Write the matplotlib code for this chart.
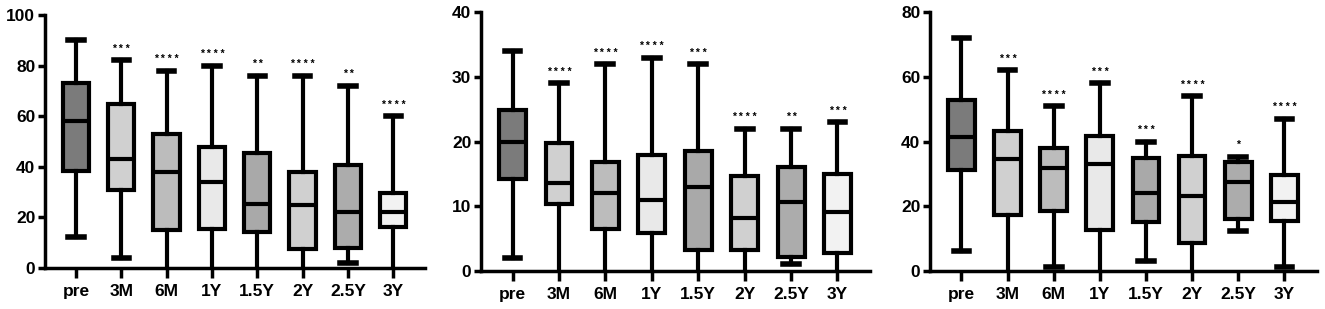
import matplotlib
matplotlib.use("Agg")
import matplotlib.pyplot as plt

plt.rcParams['font.family'] = ['Liberation Sans', 'DejaVu Sans']
plt.rcParams['font.weight'] = 'bold'

groups = ["pre", "3M", "6M", "1Y", "1.5Y", "2Y", "2.5Y", "3Y"]
fills = ["#7b7b7b", "#d0d0d0", "#bcbcbc", "#e9e9e9", "#a9a9a9", "#d0d0d0", "#acacac", "#f2f2f2"]

# panel 1: min, q1, median, q3, max
p1_min = [12, 4, 0, 0, 0, 0, 2, 0]
p1_q1 = [38.4, 30.7, 14.9, 15.4, 14.1, 7.3, 7.9, 16.2]
p1_med = [58, 43, 38, 34, 25.2, 24.8, 22.2, 22]
p1_q3 = [73.2, 64.7, 52.8, 47.6, 45.5, 37.7, 40.6, 29.7]
p1_max = [90, 82, 78, 80, 76, 76, 72, 60]
p1_stars = ["", "***", "****", "****", "**", "****", "**", "****"]

# panel 2
p2_min = [2, 0, 0, 0, 0, 0, 1, 0]
p2_q1 = [14.2, 10.3, 6.4, 5.9, 3.2, 3.2, 2.1, 2.7]
p2_med = [20, 13.5, 12.1, 11, 12.9, 8.1, 10.6, 9.1]
p2_q3 = [24.9, 19.8, 16.9, 17.9, 18.6, 14.6, 16.1, 15]
p2_max = [34, 29, 32, 33, 32, 22, 22, 23]
p2_stars = ["", "****", "****", "****", "***", "****", "**", "***"]

# panel 3
p3_min = [6, 0, 1, 0, 3, 0, 12.3, 1]
p3_q1 = [31.2, 17.1, 18.6, 12.6, 15.1, 8.5, 16, 15.5]
p3_med = [41.3, 34.5, 31.7, 33, 24, 23.1, 27.6, 21.3]
p3_q3 = [52.9, 43.4, 37.9, 41.8, 35, 35.5, 33.6, 29.6]
p3_max = [72, 62, 51, 58, 40, 54, 35.3, 47]
p3_stars = ["", "***", "****", "***", "***", "****", "*", "****"]

panels = [
    (p1_min, p1_q1, p1_med, p1_q3, p1_max, p1_stars, 100, [0, 20, 40, 60, 80, 100],
     [0.034, 0.1337, 0.2868, 0.8178]),
    (p2_min, p2_q1, p2_med, p2_q3, p2_max, p2_stars, 40, [0, 10, 20, 30, 40],
     [0.363, 0.124, 0.2936, 0.836]),
    (p3_min, p3_q1, p3_med, p3_q3, p3_max, p3_stars, 80, [0, 20, 40, 60, 80],
     [0.7019, 0.124, 0.2918, 0.836]),
]

fig = plt.figure(figsize=(13.25, 3.09), dpi=100)
lw = 3.0

for mins, q1, med, q3, maxs, stars, ymax, yticks, rect in panels:
    ax = fig.add_axes(rect)
    stats = []
    for i, g in enumerate(groups):
        stats.append({"label": g, "whislo": mins[i], "q1": q1[i], "med": med[i],
                      "q3": q3[i], "whishi": maxs[i], "fliers": []})
    bp = ax.bxp(stats, positions=range(len(groups)), widths=0.58, patch_artist=True,
                showfliers=False, capwidths=0.34,
                boxprops=dict(linewidth=lw, edgecolor="black"),
                medianprops=dict(linewidth=lw, color="black"),
                whiskerprops=dict(linewidth=lw, color="black"),
                capprops=dict(linewidth=lw + 1, color="black"))
    for patch, c in zip(bp["boxes"], fills):
        patch.set_facecolor(c)
    # lower caps sitting on the axis are hidden behind it
    for i, m in enumerate(mins):
        if m == 0:
            bp["caps"][2 * i].set_visible(False)
    for i, s in enumerate(stars):
        if s:
            ax.text(i, maxs[i] + ymax * 0.025, " ".join(s), ha="center", va="bottom",
                    fontsize=7.5, fontweight="bold")

    ax.set_xlim(-0.68, 7.7)
    ax.set_ylim(0, ymax)
    ax.set_yticks(yticks)
    ax.set_xticks(range(len(groups)))
    ax.set_xticklabels(groups)
    for side in ["top", "right"]:
        ax.spines[side].set_visible(False)
    ax.spines["left"].set_linewidth(2.5)
    ax.spines["bottom"].set_linewidth(2.5)
    ax.tick_params(axis="y", length=5, width=2.5, labelsize=12.5, pad=2)
    ax.tick_params(axis="x", length=7, width=2.5, labelsize=12.5, pad=5)
    for lab in ax.get_xticklabels() + ax.get_yticklabels():
        lab.set_fontweight("bold")

fig.savefig("out.png", dpi=100)
